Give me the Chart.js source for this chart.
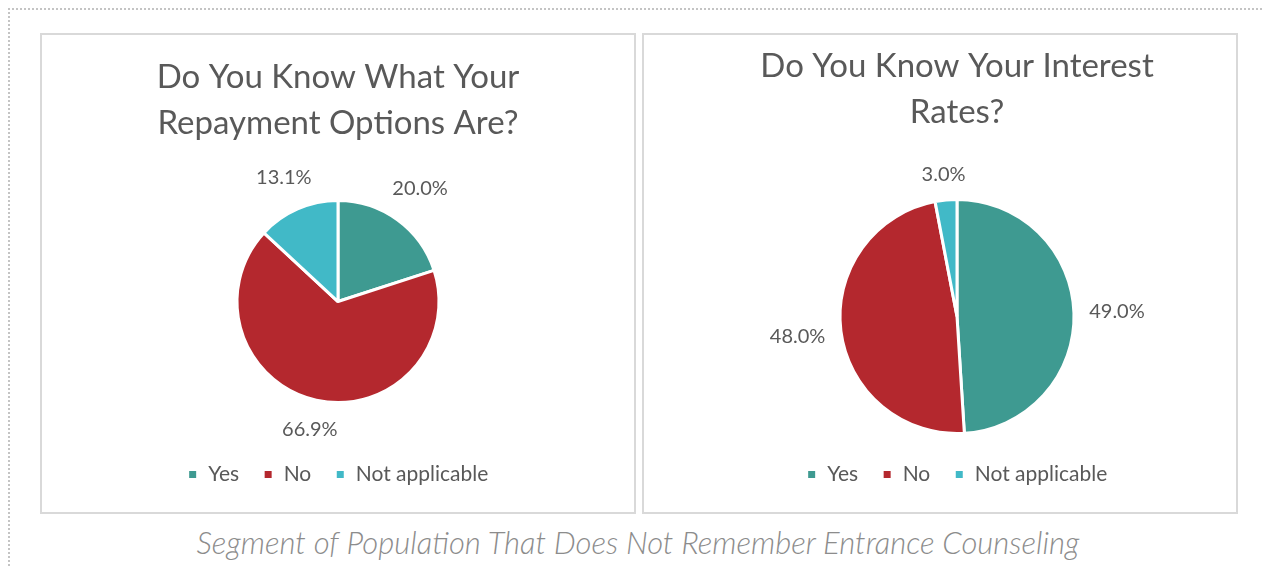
<!DOCTYPE html>
<html>
<head>
<meta charset="utf-8">
<script src="https://cdn.jsdelivr.net/npm/chart.js@4"></script>
<style>
  body { margin: 0; background: #fff; width: 1264px; height: 567px; overflow: hidden; position: relative; font-family: Lato, "Open Sans", sans-serif; }
  #frame { position: absolute; left: 8px; top: 8px; width: 1300px; height: 600px; border-top: 2px dotted #c4c4c4; border-left: 2px dotted #c4c4c4; }
  .panel { position: absolute; top: 33px; width: 592px; height: 477px; border: 2px solid #d9d9d9; }
  #p1 { left: 40px; }
  #p2 { left: 642px; }
  #caption { position: absolute; left: 0; width: 1276px; top: 523px; text-align: center; font-style: italic; font-weight: 300; font-size: 31px; color: #8c8c8c; }
</style>
</head>
<body>
<div id="frame"></div>
<div class="panel" id="p1"><canvas id="repaymentPie" width="592" height="477"></canvas></div>
<div class="panel" id="p2"><canvas id="interestPie" width="592" height="477"></canvas></div>
<div id="caption">Segment of Population That Does Not Remember Entrance Counseling</div>
<script>
const categories = ["Yes", "No", "Not applicable"];
const repaymentValues = [20.0, 66.9, 13.1];
const interestValues = [49.0, 48.0, 3.0];
const sliceColors = ["#3e9a91", "#b4282e", "#41b9c7"];
const textColor = "#595959";
const fontFamily = "Lato, 'Open Sans', sans-serif";

// подписи процентов снаружи круга
const outsideLabels = {
    id: 'outsideLabels',
    afterDatasetsDraw(chart) {
        const ctx = chart.ctx;
        const meta = chart.getDatasetMeta(0);
        const values = chart.data.datasets[0].data;
        ctx.save();
        ctx.font = "20px " + fontFamily;
        ctx.fillStyle = textColor;
        ctx.textAlign = 'center';
        ctx.textBaseline = 'middle';
        meta.data.forEach((arc, i) => {
            const p = arc.getProps(['x', 'y', 'startAngle', 'endAngle', 'outerRadius'], true);
            const mid = (p.startAngle + p.endAngle) / 2;
            const text = values[i].toFixed(1) + '%';
            const w = ctx.measureText(text).width;
            const cx = Math.cos(mid), sy = Math.sin(mid);
            const dist = p.outerRadius + 15 + Math.abs(cx) * w / 2 + Math.abs(sy) * 9;
            ctx.fillText(text, p.x + cx * dist, p.y + sy * dist);
        });
        ctx.restore();
    }
};

function makePie(id, titleLines, values, radius, titlePad, layoutPad) {
    return new Chart(document.getElementById(id), {
        type: 'pie',
        data: {
            labels: categories,
            datasets: [{
                data: values,
                backgroundColor: sliceColors,
                borderColor: '#ffffff',
                borderWidth: 3
            }]
        },
        options: {
            responsive: false,
            animation: false,
            radius: radius,
            layout: { padding: layoutPad },
            plugins: {
                title: {
                    display: true,
                    text: titleLines,
                    color: textColor,
                    font: { family: fontFamily, size: 33, weight: 400, lineHeight: 1.38 },
                    padding: titlePad
                },
                legend: {
                    position: 'bottom',
                    labels: {
                        boxWidth: 10,
                        boxHeight: 10,
                        padding: 24,
                        color: textColor,
                        font: { family: fontFamily, size: 21, weight: 400 }
                    }
                },
                tooltip: { enabled: false }
            }
        },
        plugins: [outsideLabels]
    });
}

makePie("repaymentPie", ["Do You Know What Your", "Repayment Options Are?"], repaymentValues, 101,
    { top: 20, bottom: 17 }, { left: 0, right: 0, top: 0, bottom: 17 });
makePie("interestPie", ["Do You Know Your Interest", "Rates?"], interestValues, 117,
    { top: 9, bottom: 58 }, { left: 34, right: 0, top: 0, bottom: 17 });
</script>
</body>
</html>
